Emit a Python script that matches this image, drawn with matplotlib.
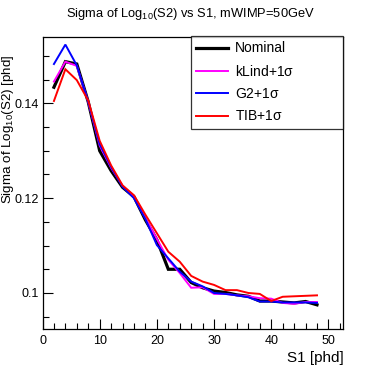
import numpy as np
import matplotlib
matplotlib.use("Agg")
import matplotlib.pyplot as plt
from matplotlib.ticker import MultipleLocator

plt.rcParams['font.family'] = ['Liberation Sans', 'DejaVu Sans']
plt.rcParams['mathtext.fontset'] = 'custom'
plt.rcParams['mathtext.rm'] = 'Liberation Sans'
plt.rcParams['mathtext.it'] = 'Liberation Sans'

# ---------------- data ----------------
s1 = [2, 4, 6, 8, 10, 12, 14, 16, 18, 20, 22, 24,
      26, 28, 30, 32, 34, 36, 38, 40, 42, 44, 46, 48]

nominal = [0.1434, 0.1488, 0.1483, 0.1403, 0.1300, 0.1258, 0.1223, 0.1203,
           0.1154, 0.1112, 0.1050, 0.1050, 0.1022, 0.1011, 0.1004, 0.1001,
           0.0996, 0.0993, 0.0983, 0.0983, 0.0981, 0.0979, 0.0982, 0.0975]
klind = [0.1446, 0.1488, 0.1479, 0.1403, 0.1311, 0.1264, 0.1226, 0.1202,
         0.1158, 0.1114, 0.1070, 0.1042, 0.1011, 0.1012, 0.0998, 0.0998,
         0.0995, 0.0993, 0.0989, 0.0988, 0.0979, 0.0977, 0.0981, 0.0981]
g2 = [0.1483, 0.1524, 0.1480, 0.1403, 0.1314, 0.1266, 0.1224, 0.1200,
      0.1156, 0.1101, 0.1073, 0.1045, 0.1024, 0.1014, 0.1000, 0.0998,
      0.0995, 0.0991, 0.0982, 0.0982, 0.0980, 0.0980, 0.0980, 0.0979]
tib = [0.1405, 0.1472, 0.1449, 0.1406, 0.1321, 0.1269, 0.1227, 0.1206,
       0.1165, 0.1126, 0.1087, 0.1066, 0.1036, 0.1024, 0.1017, 0.1006,
       0.1006, 0.1000, 0.0998, 0.0983, 0.0992, 0.0993, 0.0994, 0.0995]

series = [
    ("Nominal", nominal, "black", 2.3),
    (r"kLind+1$\sigma$", klind, "#ff00ff", 1.4),
    (r"G2+1$\sigma$", g2, "#0000ff", 1.4),
    (r"TIB+1$\sigma$", tib, "#ff0000", 1.4),
]

# ---------------- figure ----------------
W, H = 382, 367
fig = plt.figure(figsize=(W / 100, H / 100), dpi=100, facecolor='white')
ax = fig.add_axes([42.5 / W, 1 - 329 / H, 300.8 / W, 292 / H])

for label, vals, col, lw in series:
    ax.plot(s1, vals, color=col, lw=lw, label=label, solid_joinstyle='miter')

ax.set_xlim(0, 52.6)
ax.set_ylim(0.0924, 0.1540)

ax.xaxis.set_major_locator(MultipleLocator(10))
ax.xaxis.set_minor_locator(MultipleLocator(2))
ax.yaxis.set_major_locator(MultipleLocator(0.02))
ax.yaxis.set_minor_locator(MultipleLocator(0.005))
ax.yaxis.set_major_formatter(plt.FuncFormatter(lambda v, p: f"{v:g}"))

ax.tick_params(which='both', direction='in', top=False, right=False,
               labelsize=9, width=0.8)
ax.tick_params(which='major', length=7)
ax.tick_params(which='minor', length=4)
ax.tick_params(axis='x', pad=4)
ax.tick_params(axis='y', pad=2.5)
for sp in ax.spines.values():
    sp.set_linewidth(0.9)

ax.set_xlabel("S1 [phd]", fontsize=11, loc='right', labelpad=3)
# y title placed by hand, ROOT style (right-aligned at top)
fig.text(8.5 / W, 1 - 55 / H, r"Sigma of Log$_{10}$(S2) [phd]", rotation=90,
         ha='center', va='top', fontsize=9.6)

fig.text(190 / W, 1 - 14 / H, r"Sigma of Log$_{10}$(S2) vs S1, mWIMP=50GeV",
         ha='center', va='center', fontsize=9.3)

leg = ax.legend(loc='upper left', bbox_to_anchor=(0.494, 0.0, 0.506, 1.003),
                mode='expand', fontsize=10, frameon=True, fancybox=False,
                shadow=False, borderaxespad=0, handlelength=2.3,
                labelspacing=0.6, borderpad=0.38, handletextpad=0.5)
leg.get_frame().set_edgecolor('black')
leg.get_frame().set_linewidth(0.9)

fig.savefig("out.png", dpi=100)
